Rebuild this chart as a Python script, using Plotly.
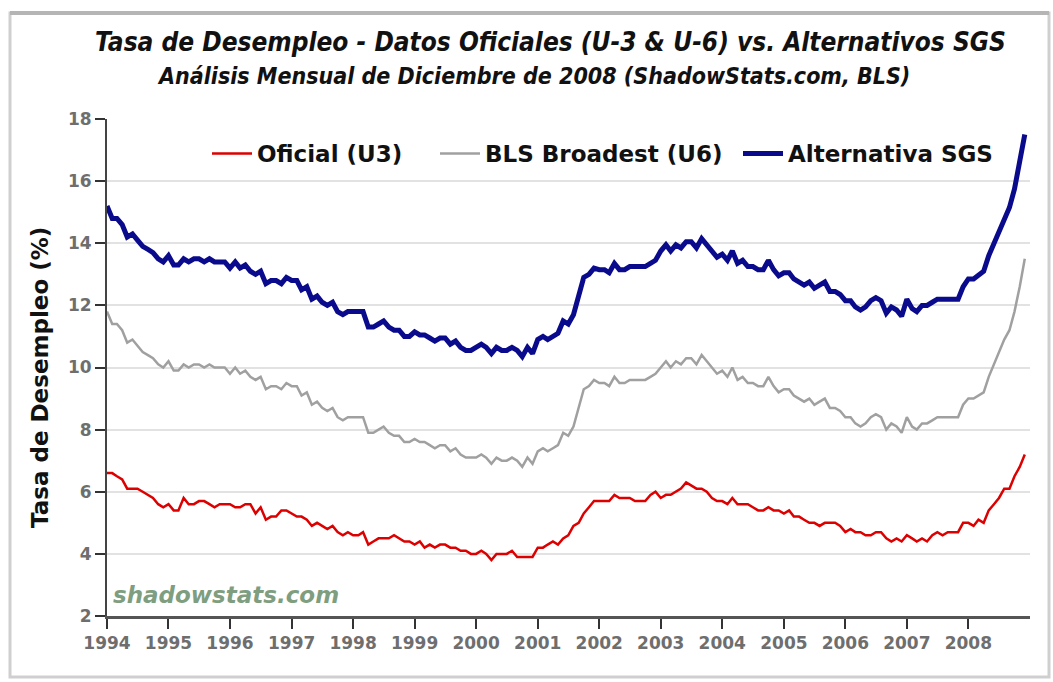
import pandas as pd
import plotly.graph_objects as go

# Monthly data Jan 1994 - Dec 2008
months = pd.date_range("1994-01-01", "2008-12-01", freq="MS")

u3 = [
    6.6, 6.6, 6.5, 6.4, 6.1, 6.1, 6.1, 6.0, 5.9, 5.8, 5.6, 5.5,
    5.6, 5.4, 5.4, 5.8, 5.6, 5.6, 5.7, 5.7, 5.6, 5.5, 5.6, 5.6,
    5.6, 5.5, 5.5, 5.6, 5.6, 5.3, 5.5, 5.1, 5.2, 5.2, 5.4, 5.4,
    5.3, 5.2, 5.2, 5.1, 4.9, 5.0, 4.9, 4.8, 4.9, 4.7, 4.6, 4.7,
    4.6, 4.6, 4.7, 4.3, 4.4, 4.5, 4.5, 4.5, 4.6, 4.5, 4.4, 4.4,
    4.3, 4.4, 4.2, 4.3, 4.2, 4.3, 4.3, 4.2, 4.2, 4.1, 4.1, 4.0,
    4.0, 4.1, 4.0, 3.8, 4.0, 4.0, 4.0, 4.1, 3.9, 3.9, 3.9, 3.9,
    4.2, 4.2, 4.3, 4.4, 4.3, 4.5, 4.6, 4.9, 5.0, 5.3, 5.5, 5.7,
    5.7, 5.7, 5.7, 5.9, 5.8, 5.8, 5.8, 5.7, 5.7, 5.7, 5.9, 6.0,
    5.8, 5.9, 5.9, 6.0, 6.1, 6.3, 6.2, 6.1, 6.1, 6.0, 5.8, 5.7,
    5.7, 5.6, 5.8, 5.6, 5.6, 5.6, 5.5, 5.4, 5.4, 5.5, 5.4, 5.4,
    5.3, 5.4, 5.2, 5.2, 5.1, 5.0, 5.0, 4.9, 5.0, 5.0, 5.0, 4.9,
    4.7, 4.8, 4.7, 4.7, 4.6, 4.6, 4.7, 4.7, 4.5, 4.4, 4.5, 4.4,
    4.6, 4.5, 4.4, 4.5, 4.4, 4.6, 4.7, 4.6, 4.7, 4.7, 4.7, 5.0,
    5.0, 4.9, 5.1, 5.0, 5.4, 5.6, 5.8, 6.1, 6.1, 6.5, 6.8, 7.2,
]

u6 = [
    11.8, 11.4, 11.4, 11.2, 10.8, 10.9, 10.7, 10.5, 10.4, 10.3, 10.1, 10.0,
    10.2, 9.9, 9.9, 10.1, 10.0, 10.1, 10.1, 10.0, 10.1, 10.0, 10.0, 10.0,
    9.8, 10.0, 9.8, 9.9, 9.7, 9.6, 9.7, 9.3, 9.4, 9.4, 9.3, 9.5,
    9.4, 9.4, 9.1, 9.2, 8.8, 8.9, 8.7, 8.6, 8.7, 8.4, 8.3, 8.4,
    8.4, 8.4, 8.4, 7.9, 7.9, 8.0, 8.1, 7.9, 7.8, 7.8, 7.6, 7.6,
    7.7, 7.6, 7.6, 7.5, 7.4, 7.5, 7.5, 7.3, 7.4, 7.2, 7.1, 7.1,
    7.1, 7.2, 7.1, 6.9, 7.1, 7.0, 7.0, 7.1, 7.0, 6.8, 7.1, 6.9,
    7.3, 7.4, 7.3, 7.4, 7.5, 7.9, 7.8, 8.1, 8.7, 9.3, 9.4, 9.6,
    9.5, 9.5, 9.4, 9.7, 9.5, 9.5, 9.6, 9.6, 9.6, 9.6, 9.7, 9.8,
    10.0, 10.2, 10.0, 10.2, 10.1, 10.3, 10.3, 10.1, 10.4, 10.2, 10.0, 9.8,
    9.9, 9.7, 10.0, 9.6, 9.7, 9.5, 9.5, 9.4, 9.4, 9.7, 9.4, 9.2,
    9.3, 9.3, 9.1, 9.0, 8.9, 9.0, 8.8, 8.9, 9.0, 8.7, 8.7, 8.6,
    8.4, 8.4, 8.2, 8.1, 8.2, 8.4, 8.5, 8.4, 8.0, 8.2, 8.1, 7.9,
    8.4, 8.1, 8.0, 8.2, 8.2, 8.3, 8.4, 8.4, 8.4, 8.4, 8.4, 8.8,
    9.0, 9.0, 9.1, 9.2, 9.7, 10.1, 10.5, 10.9, 11.2, 11.8, 12.6, 13.5,
]

sgs = [
    15.2, 14.8, 14.8, 14.6, 14.2, 14.3, 14.1, 13.9, 13.8, 13.7, 13.5, 13.4,
    13.6, 13.3, 13.3, 13.5, 13.4, 13.5, 13.5, 13.4, 13.5, 13.4, 13.4, 13.4,
    13.2, 13.4, 13.2, 13.3, 13.1, 13.0, 13.1, 12.7, 12.8, 12.8, 12.7, 12.9,
    12.8, 12.8, 12.5, 12.6, 12.2, 12.3, 12.1, 12.0, 12.1, 11.8, 11.7, 11.8,
    11.8, 11.8, 11.8, 11.3, 11.3, 11.4, 11.5, 11.3, 11.2, 11.2, 11.0, 11.0,
    11.15, 11.05, 11.05, 10.95, 10.85, 10.95, 10.95, 10.75, 10.85, 10.65, 10.55, 10.55,
    10.65, 10.75, 10.65, 10.45, 10.65, 10.55, 10.55, 10.65, 10.55, 10.35, 10.65, 10.45,
    10.9, 11.0, 10.9, 11.0, 11.1, 11.5, 11.4, 11.7, 12.3, 12.9, 13.0, 13.2,
    13.15, 13.15, 13.05, 13.35, 13.15, 13.15, 13.25, 13.25, 13.25, 13.25, 13.35, 13.45,
    13.75, 13.95, 13.75, 13.95, 13.85, 14.05, 14.05, 13.85, 14.15, 13.95, 13.75, 13.55,
    13.65, 13.45, 13.75, 13.35, 13.45, 13.25, 13.25, 13.15, 13.15, 13.45, 13.15, 12.95,
    13.05, 13.05, 12.85, 12.75, 12.65, 12.75, 12.55, 12.65, 12.75, 12.45, 12.45, 12.35,
    12.15, 12.15, 11.95, 11.85, 11.95, 12.15, 12.25, 12.15, 11.75, 11.95, 11.85, 11.65,
    12.2, 11.9, 11.8, 12.0, 12.0, 12.1, 12.2, 12.2, 12.2, 12.2, 12.2, 12.6,
    12.85, 12.85, 12.95, 13.1, 13.6, 14.0, 14.4, 14.85, 15.15, 15.75, 16.6, 17.5,
]

series_names = ["Oficial (U3)", "BLS Broadest (U6)", "Alternativa SGS"]
series_colors = ["#dd0000", "#a0a0a0", "#0a0a8c"]
series_widths = [2.5, 2.5, 5]
year_ticks = [str(y) for y in range(1994, 2009)]

title_text = "Tasa de Desempleo - Datos Oficiales (U-3 & U-6) vs. Alternativos SGS"
subtitle_text = "Análisis Mensual de Diciembre de 2008 (ShadowStats.com, BLS)"
y_title = "Tasa de Desempleo (%)"
watermark = "shadowstats.com"

L, R, T, B = 107, 23, 119, 66
W, H = 1053, 682
pw, ph = W - L - R, H - T - B

def px(xp):
    return (xp - L) / pw

def py(yp):
    return (H - B - yp) / ph

legend_ids = ["legend", "legend2", "legend3"]
legend_left = [207, 435, 738]

fig = go.Figure()
for name, vals, col, wd, lid in zip(series_names, [u3, u6, sgs], series_colors,
                                    series_widths, legend_ids):
    fig.add_trace(go.Scatter(x=months, y=vals, name=name, mode="lines",
                             line=dict(color=col, width=wd), legend=lid))

legend_font = dict(family="DejaVu Sans", size=23, color="#111", weight="bold")
legend_layout = {}
for lid, lx in zip(legend_ids, legend_left):
    legend_layout[lid] = dict(orientation="h", x=px(lx), y=py(132),
                              xanchor="left", yanchor="top", font=legend_font,
                              bgcolor="rgba(255,255,255,0)", itemwidth=40)

tick_font = dict(family="DejaVu Sans", size=17, color="#6e6e6e", weight="bold")

fig.update_layout(
    width=W, height=H,
    margin=dict(l=L, r=R, t=T, b=B),
    paper_bgcolor="white", plot_bgcolor="white",
    showlegend=True,
    **legend_layout,
    xaxis=dict(
        type="date",
        range=["1994-01-01", "2009-01-01"],
        tickvals=[f"{y}-01-01" for y in year_ticks],
        ticktext=year_ticks,
        ticks="outside", ticklen=10, tickwidth=2, tickcolor="#333",
        showline=True, linecolor="#555", linewidth=3,
        showgrid=False, zeroline=False,
        tickfont=tick_font,
    ),
    yaxis=dict(
        range=[2, 18], dtick=2, tick0=2,
        ticks="outside", ticklen=10, tickwidth=2, tickcolor="#333",
        showline=True, linecolor="#444", linewidth=2,
        showgrid=True, gridcolor="#e2e2e2", gridwidth=2,
        zeroline=False,
        tickfont=tick_font,
    ),
    shapes=[
        dict(type="rect", xref="paper", yref="paper",
             x0=px(10), x1=px(1049), y0=py(677), y1=py(13),
             line=dict(color="#cfcfcf", width=3), fillcolor="rgba(0,0,0,0)", layer="below"),
        dict(type="line", xref="paper", yref="paper",
             x0=px(10), x1=px(1049), y0=py(13), y1=py(13),
             line=dict(color="#b5b5b5", width=4)),
    ],
    annotations=[
        dict(text=f"<b><i>{title_text}</i></b>", xref="paper", yref="paper",
             x=px(550), y=py(42), xanchor="center", yanchor="middle", showarrow=False,
             font=dict(family="DejaVu Sans Condensed, Liberation Sans Narrow, DejaVu Sans", size=26, color="#111")),
        dict(text=f"<b><i>{subtitle_text}</i></b>", xref="paper", yref="paper",
             x=px(533), y=py(76), xanchor="center", yanchor="middle", showarrow=False,
             font=dict(family="DejaVu Sans Condensed, Liberation Sans Narrow, DejaVu Sans", size=23, color="#111")),
        dict(text=f"<b>{y_title}</b>", xref="paper", yref="paper", textangle=-90,
             x=px(40), y=py(378), xanchor="center", yanchor="middle", showarrow=False,
             font=dict(family="DejaVu Sans", size=23, color="#111")),
        dict(text=f"<b><i>{watermark}</i></b>", xref="paper", yref="paper",
             x=px(111), y=py(595), xanchor="left", yanchor="middle", showarrow=False,
             font=dict(family="DejaVu Sans", size=23, color="#7f9e7f")),
    ],
)

fig.write_html("out.html", config={"displayModeBar": False},
               post_script="document.body.style.margin='0';")
